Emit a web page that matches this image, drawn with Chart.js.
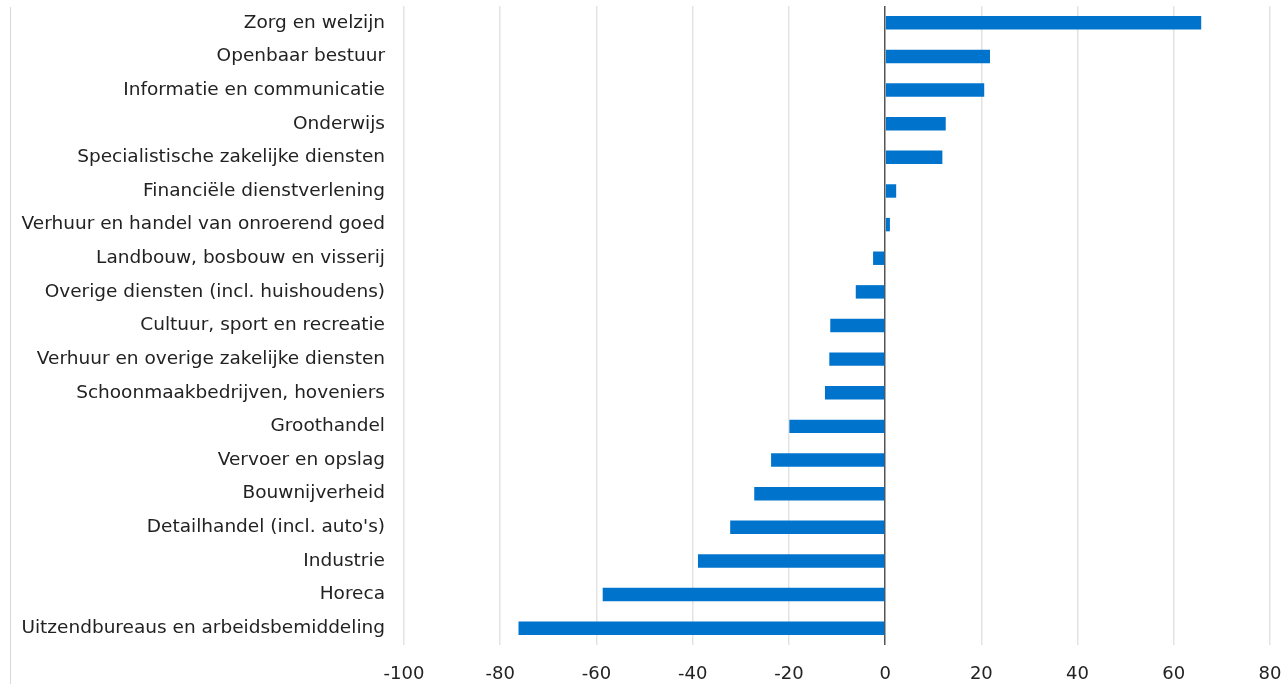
<!DOCTYPE html>
<html>
<head>
<meta charset="utf-8">
<script src="https://cdn.jsdelivr.net/npm/chart.js@4/dist/chart.umd.min.js"></script>
<style>
  html, body { margin: 0; padding: 0; background: #fff; }
  #wrap { position: relative; width: 1287px; height: 684px; }
  #frame { position: absolute; left: 10px; top: 7px; height: 677px; width: 1px; background: #d8d8d8; }
  canvas { position: absolute; left: 0; top: 0; }
</style>
</head>
<body>
<div id="wrap">
  <div id="frame"></div>
  <canvas id="c" width="1287" height="684"></canvas>
</div>
<script>
const categories = [
  "Zorg en welzijn",
  "Openbaar bestuur",
  "Informatie en communicatie",
  "Onderwijs",
  "Specialistische zakelijke diensten",
  "Financiële dienstverlening",
  "Verhuur en handel van onroerend goed",
  "Landbouw, bosbouw en visserij",
  "Overige diensten (incl. huishoudens)",
  "Cultuur, sport en recreatie",
  "Verhuur en overige zakelijke diensten",
  "Schoonmaakbedrijven, hoveniers",
  "Groothandel",
  "Vervoer en opslag",
  "Bouwnijverheid",
  "Detailhandel (incl. auto's)",
  "Industrie",
  "Horeca",
  "Uitzendbureaus en arbeidsbemiddeling"
];
const values = [65.7, 21.8, 20.6, 12.6, 11.9, 2.3, 1.0, -2.5, -6.1, -11.4, -11.6, -12.5, -19.9, -23.7, -27.2, -32.2, -38.9, -58.7, -76.2];
const xMin = -100, xMax = 80, xStep = 20;

const FONT = "'DejaVu Sans', Verdana, sans-serif";

function zeroPad(s) { s.paddingTop = 0; s.paddingBottom = 0; s.paddingLeft = 0; s.paddingRight = 0; }

new Chart(document.getElementById('c'), {
  type: 'bar',
  data: {
    labels: categories,
    datasets: [{
      data: values,
      backgroundColor: '#0074cc',
      borderWidth: 0,
      barPercentage: 0.4,
      categoryPercentage: 1.0
    }]
  },
  options: {
    indexAxis: 'y',
    responsive: false,
    animation: false,
    devicePixelRatio: 1,
    layout: { padding: { top: 6, right: 17, left: 0, bottom: 0 } },
    plugins: { legend: { display: false }, tooltip: { enabled: false } },
    scales: {
      x: {
        min: xMin, max: xMax,
        ticks: { stepSize: xStep, color: '#222', font: { family: FONT, size: 18 }, padding: 19 },
        grid: {
          drawTicks: false,
          color: ctx => (ctx.tick && ctx.tick.value === 0) ? '#555' : '#e3e3e3',
          lineWidth: 1.5
        },
        border: { display: false },
        afterFit: s => { s.height = 39; zeroPad(s); }
      },
      y: {
        ticks: { color: '#222', font: { family: FONT, size: 18.5 }, padding: 19, autoSkip: false },
        grid: { display: false, drawTicks: false },
        border: { display: false },
        afterFit: s => { s.width = 404; zeroPad(s); }
      }
    }
  }
});
</script>
</body>
</html>
